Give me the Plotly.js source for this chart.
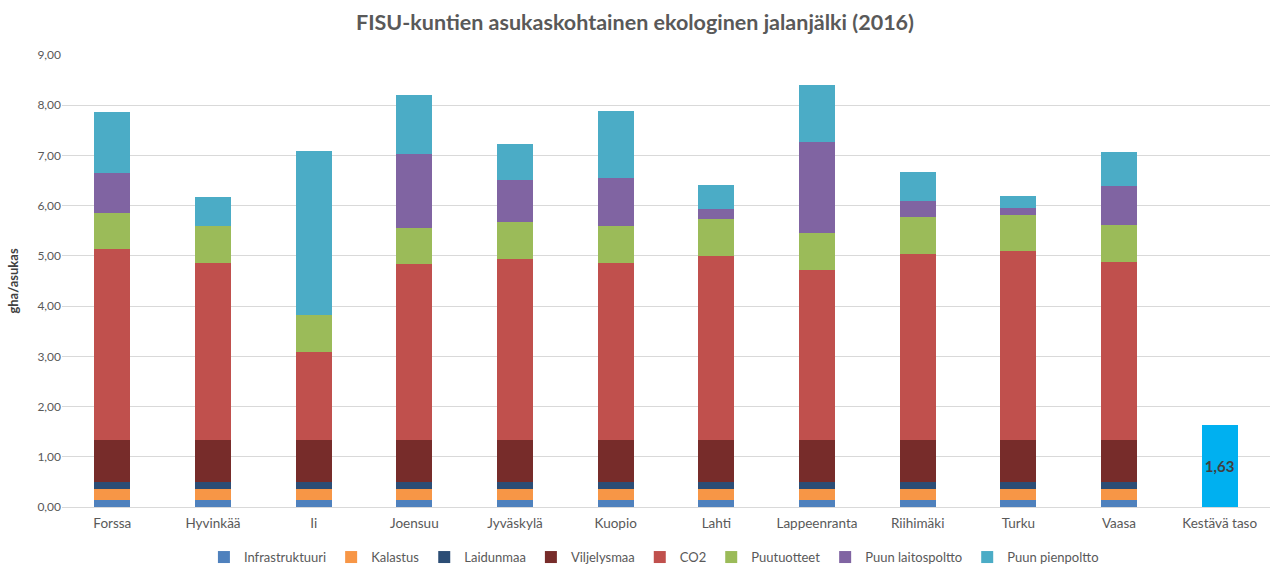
<!DOCTYPE html>
<html>
<head>
<meta charset="utf-8">
<script src="https://cdn.plot.ly/plotly-3.0.1.min.js"></script>
<style>html,body{margin:0;padding:0;background:#fff}#chart{width:1270px;height:565px}</style>
</head>
<body>
<div id="chart"></div>
<script>
const categories = ["Forssa","Hyvinkää","Ii","Joensuu","Jyväskylä","Kuopio","Lahti","Lappeenranta","Riihimäki","Turku","Vaasa"];
const allCategories = categories.concat(["Kestävä taso"]);
const infrastruktuuri = [0.13,0.13,0.13,0.13,0.13,0.13,0.13,0.13,0.13,0.13,0.13];
const kalastus        = [0.22,0.22,0.22,0.22,0.22,0.22,0.22,0.22,0.22,0.22,0.22];
const laidunmaa       = [0.15,0.15,0.15,0.15,0.15,0.15,0.15,0.15,0.15,0.15,0.15];
const viljelysmaa     = [0.83,0.83,0.83,0.83,0.83,0.83,0.83,0.83,0.83,0.83,0.83];
const co2             = [3.80,3.52,1.76,3.50,3.60,3.52,3.66,3.39,3.71,3.76,3.54];
const puutuotteet     = [0.73,0.74,0.73,0.73,0.75,0.74,0.74,0.73,0.73,0.73,0.74];
const puunLaitospoltto= [0.79,0,0,1.46,0.83,0.96,0.20,1.81,0.33,0.13,0.78];
const puunPienpoltto  = [1.21,0.58,3.27,1.18,0.72,1.33,0.49,1.14,0.58,0.24,0.68];
const kestavaTaso = [1.63];

const seriesNames = ["Infrastruktuuri","Kalastus","Laidunmaa","Viljelysmaa","CO2","Puutuotteet","Puun laitospoltto","Puun pienpoltto"];
const seriesValues = [infrastruktuuri,kalastus,laidunmaa,viljelysmaa,co2,puutuotteet,puunLaitospoltto,puunPienpoltto];
const seriesColors = ["#4F81BD","#F79646","#2C4D75","#772C2A","#C0504D","#9BBB59","#8064A2","#4BACC6"];

const traces = seriesNames.map((n,i)=>({
  type:'bar', name:n, x:categories, y:seriesValues[i],
  marker:{color:seriesColors[i], line:{width:0}},
  hoverinfo:'x+y+name'
}));
traces.push({
  type:'bar', name:'Kestävä taso', x:["Kestävä taso"], y:kestavaTaso,
  marker:{color:'#00B0F0'}, showlegend:false,
  texttemplate:'%{y:.2f}', textposition:'inside', insidetextanchor:'middle',
  textfont:{family:'Lato, Open Sans, sans-serif', size:15, color:'#404040', weight:'bold'}
});

const layout = {
  width:1270, height:565,
  margin:{l:62, r:0, t:55, b:58.4, autoexpand:false},
  paper_bgcolor:'#fff', plot_bgcolor:'#fff',
  barmode:'stack', bargap:0.645,
  separators:',.',
  font:{family:'Lato, Open Sans, sans-serif', color:'#595959', size:13},
  title:{text:'<b>FISU-kuntien asukaskohtainen ekologinen jalanjälki (2016)</b>',
    x:0.5, xanchor:'center', y:0.961, yanchor:'middle',
    font:{family:'Lato, Open Sans, sans-serif', size:21.5, color:'#595959'}},
  xaxis:{type:'category', categoryorder:'array', categoryarray:allCategories,
    showgrid:false, showline:false, zeroline:false, ticks:'', ticklabelstandoff:6,
    tickfont:{size:13.5, color:'#595959'}},
  yaxis:{range:[0,9], dtick:1, tickformat:'.2f', showgrid:true, gridcolor:'#D9D9D9',
    gridwidth:1, zeroline:true, zerolinecolor:'#D9D9D9', zerolinewidth:1, showline:false, ticks:'',
    tickfont:{size:12, color:'#595959'},
    title:{text:'<b>gha/asukas</b>', font:{size:13, color:'#404040'}, standoff:15}},
  legend:{orientation:'h', x:0.49, xanchor:'center', yref:'container', y:0.014, yanchor:'middle',
    traceorder:'normal', font:{size:13, color:'#595959'}, itemwidth:30},
  showlegend:true
};
Plotly.newPlot('chart', traces, layout, {displayModeBar:false, responsive:false});
</script>
</body>
</html>
